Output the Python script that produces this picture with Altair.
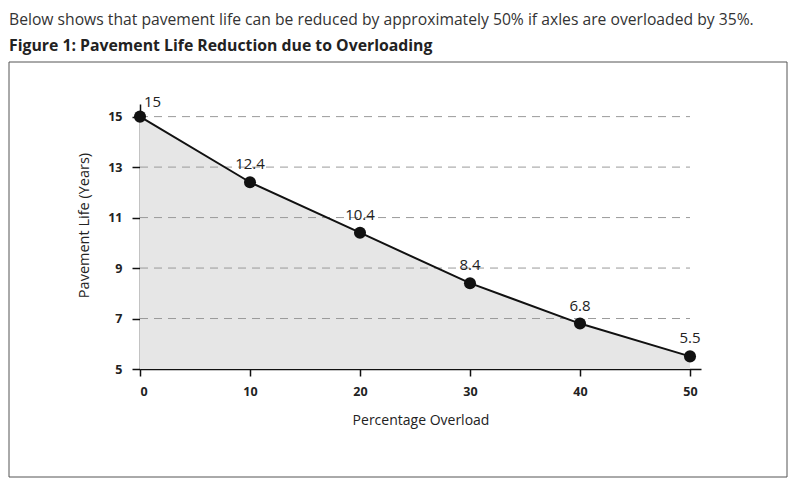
import altair as alt
import pandas as pd

header_line = "Below shows that pavement life can be reduced by approximately 50% if axles are overloaded by 35%."
figure_title = "Figure 1: Pavement Life Reduction due to Overloading"

overload = [0, 10, 20, 30, 40, 50]
life = [15, 12.4, 10.4, 8.4, 6.8, 5.5]
labels = ["15", "12.4", "10.4", "8.4", "6.8", "5.5"]
y_ticks = [5, 7, 9, 11, 13, 15]
grid_values = [7, 9, 11, 13, 15]
x_ticks = [0, 10, 20, 30, 40, 50]

df = pd.DataFrame({"overload": overload, "life": life, "label": labels})
grid_df = pd.DataFrame({"g": grid_values, "x0": [0] * len(grid_values), "x1": [50] * len(grid_values)})

FONT = "Open Sans"

x_enc = alt.X("overload:Q",
              scale=alt.Scale(domain=[0, 51], nice=False, zero=False),
              axis=alt.Axis(values=x_ticks, title="Percentage Overload", grid=False,
                            labelFont=FONT, labelFontWeight="bold", labelFontSize=12.5,
                            labelColor="#222", labelPadding=9, tickSize=7,
                            tickColor="#111", domainColor="#111", domainWidth=1.5,
                            tickWidth=1.5, titleFont=FONT, titleFontSize=14,
                            titleFontWeight="normal", titleColor="#222", titlePadding=16))
y_enc = alt.Y("life:Q",
              scale=alt.Scale(domain=[5, 15.5], nice=False, zero=False),
              axis=alt.Axis(values=y_ticks, title="Pavement Life (Years)", grid=False,
                            labelFont=FONT, labelFontWeight="bold", labelFontSize=12.5,
                            labelColor="#222", labelPadding=10, tickSize=8,
                            tickColor="#111", domainColor="#111", domainWidth=1.5,
                            tickWidth=1.5, titleFont=FONT, titleFontSize=14.5,
                            titleFontWeight="normal", titleColor="#222", titlePadding=16,
                            titleY=121))

base = alt.Chart(df)

area = base.mark_area(color="#e6e6e6", opacity=1).encode(x=x_enc, y=y_enc, y2=alt.datum(5))
grid = alt.Chart(grid_df).mark_rule(color="#9a9a9a", strokeWidth=1, strokeDash=[8, 6]).encode(
    x="x0:Q", x2="x1:Q", y="g:Q")
line = base.mark_line(color="#111", strokeWidth=2).encode(x="overload:Q", y="life:Q")
pts = base.mark_point(filled=True, color="#111", size=145, opacity=1).encode(x="overload:Q", y="life:Q")

lbl_first = base.transform_filter(alt.datum.overload == 0).mark_text(
    font=FONT, fontSize=15, color="#222", align="left", baseline="middle", dx=4, dy=-15
).encode(x="overload:Q", y="life:Q", text="label:N")
lbl_rest = base.transform_filter(alt.datum.overload > 0).mark_text(
    font=FONT, fontSize=15, color="#222", align="center", baseline="middle", dy=-18
).encode(x="overload:Q", y="life:Q", text="label:N")

h1 = alt.Chart(pd.DataFrame({"t": [header_line]})).mark_text(
    font=FONT, fontSize=15.7, color="#333", align="left", baseline="alphabetic"
).encode(text="t:N", x=alt.value(-131), y=alt.value(-79))
h2 = alt.Chart(pd.DataFrame({"t": [figure_title]})).mark_text(
    font=FONT, fontSize=15.8, fontWeight="bold", color="#222", align="left", baseline="alphabetic"
).encode(text="t:N", x=alt.value(-131), y=alt.value(-53))

border = alt.Chart(pd.DataFrame({"b": [0]})).mark_rect(
    fill=None, fillOpacity=0, stroke="#555", strokeWidth=1
).encode(x=alt.value(-131), x2=alt.value(647), y=alt.value(-42), y2=alt.value(373))

chart = alt.layer(area, grid, line, pts, lbl_first, lbl_rest, h1, h2, border).properties(
    width=561, height=265,
    padding={"left": 132, "top": 96, "right": 87, "bottom": 109},
    autosize=alt.AutoSizeParams(type="none"),
    background="white",
).configure_view(stroke=None)

chart.save("out.html", embed_options={"renderer": "svg", "actions": False})
